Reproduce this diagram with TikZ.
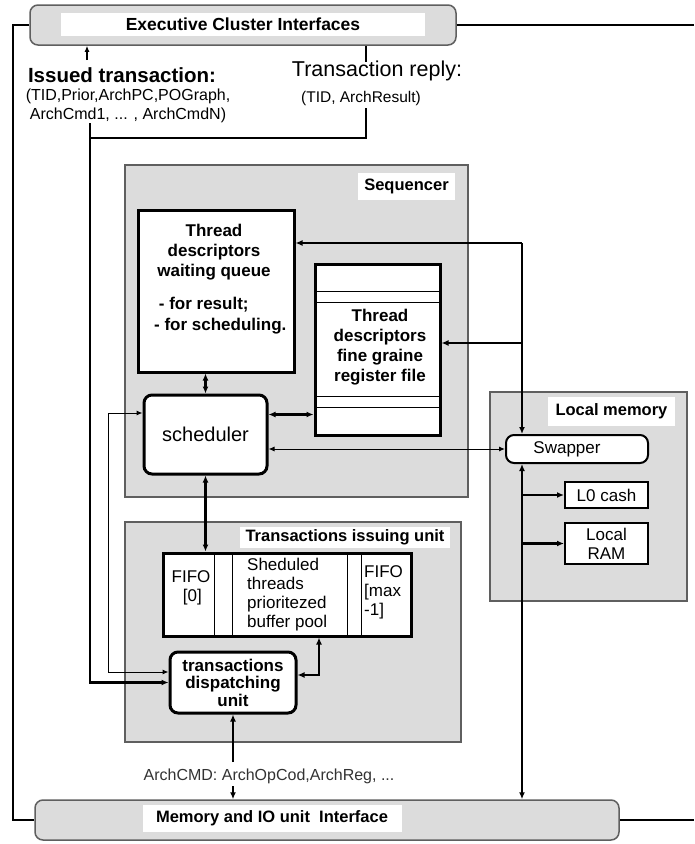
\documentclass[tikz,border=0pt]{standalone}
\usepackage{fontspec}
\setmainfont{Liberation Sans}
\usetikzlibrary{arrows.meta}
\definecolor{panel}{RGB}{220,220,220}
\definecolor{edge}{RGB}{95,95,95}
\begin{document}
\begin{tikzpicture}[x=1pt,y=-1pt,
  region/.style={draw=edge,line width=1.2pt,fill=panel,inner sep=0pt},
  iface/.style={draw=edge,line width=1.5pt,fill=panel,rounded corners=8pt,inner sep=0pt},
  tag/.style={fill=white,inner sep=0pt,font=\fontsize{16.5}{20}\selectfont\bfseries},
  blk/.style={draw,line width=3pt,fill=white,inner sep=0pt},
  rblk/.style={blk,rounded corners=8pt},
  sblk/.style={draw,line width=2pt,fill=white,inner sep=0pt},
  txt/.style={inner sep=0pt,font=\fontsize{17}{19}\selectfont},
  btxt/.style={inner sep=0pt,font=\fontsize{17}{20}\selectfont\bfseries},
  wire/.style={line width=2.2pt,-{Latex[length=7pt,width=6pt]}},
  wires/.style={line width=2.2pt,{Latex[length=7pt,width=6pt]}-{Latex[length=7pt,width=6pt]}},
  thinwires/.style={line width=1pt,{Latex[length=6pt,width=5pt]}-{Latex[length=6pt,width=5pt]}}]
\fill[white] (0,0) rectangle (694,844);
\useasboundingbox (0,0) rectangle (694,844);
\node[iface,minimum width=426,minimum height=40] (exec) at (243,25) {};
\node[tag,minimum width=364,minimum height=23,font=\fontsize{17.5}{20}\selectfont\bfseries] (execlbl) at (243,24.5) {Executive Cluster Interfaces};
\node[iface,minimum width=584,minimum height=40] (mem) at (327,820) {};
\node[tag,minimum width=259,minimum height=27] (memlbl) at (272,818.5) {Memory and IO unit \ Interface};
\node[btxt,font=\fontsize{20.5}{22}\selectfont\bfseries] (issued) at (122,75) {Issued transaction:};
\node[txt,font=\fontsize{16}{19}\selectfont,align=center] (issuedargs) at (128,106) {(TID,Prior,ArchPC,POGraph,\\ArchCmd1, ... , ArchCmdN)};
\node[txt,font=\fontsize{21.5}{22}\selectfont] (reply) at (377,71) {Transaction reply:};
\node[txt,font=\fontsize{15.5}{16}\selectfont] (replyargs) at (361,98) {(TID, ArchResult)};
\node[region,minimum width=343,minimum height=332] (seq) at (296.5,331) {};
\node[tag,minimum width=97,minimum height=27] (seqlbl) at (406.5,186.5) {Sequencer};
\node[blk,minimum width=156,minimum height=162] (queue) at (216,291) {};
\node[btxt,align=center] (queuehead) at (214,252) {Thread\\descriptors\\waiting queue};
\node[btxt,align=left,anchor=west,font=\fontsize{17}{21}\selectfont\bfseries] (queuelist) at (154,316) {\ - for result;\\- for scheduling.};
\node[blk,minimum width=125,minimum height=171] (regf) at (377.5,349.5) {};
\foreach \yy in {291,302,396,407}
  \draw[line width=1pt] (315,\yy) -- (440,\yy);
\node[btxt,align=center] (regftxt) at (380,347) {Thread\\descriptors\\fine graine\\register file};
\node[rblk,minimum width=123,minimum height=79,font=\fontsize{20}{22}\selectfont] (sched) at (205.5,434.5) {scheduler};
\node[region,minimum width=336,minimum height=220] (tiu) at (293,632) {};
\node[tag,minimum width=210,minimum height=21] (tiulbl) at (345,537.5) {Transactions issuing unit};
\node[blk,minimum width=248,minimum height=83] (pool) at (287,594.5) {};
\foreach \xx in {214,232,347,361}
  \draw[line width=1pt] (\xx,553) -- (\xx,636);
\node[txt,align=center] (fifo0) at (191,588) {FIFO\\{\,[0]}};
\node[txt,align=left,anchor=west] (pooltxt) at (247,595) {Sheduled\\threads\\prioritezed\\buffer pool};
\node[txt,align=left,anchor=west] (fifomax) at (364,592) {FIFO\\{[max}\\-1]};
\node[rblk,minimum width=126,minimum height=61,align=center,font=\fontsize{17}{17.5}\selectfont\bfseries] (disp) at (233,682.5) {transactions\\dispatching\\unit};
\node[txt,font=\fontsize{16}{18}\selectfont,text=black!80] (cmdlbl) at (269,776) {ArchCMD: ArchOpCod,ArchReg, ...};
\node[region,minimum width=197,minimum height=209] (lmem) at (588.5,496.5) {};
\node[tag,minimum width=127,minimum height=29] (lmemlbl) at (611.5,411.5) {Local memory};
\node[sblk,rounded corners=8pt,minimum width=142,minimum height=28,font=\fontsize{17}{19}\selectfont] (swap) at (577,449) {Swapper\hspace*{20pt}};
\node[sblk,minimum width=83,minimum height=26,font=\fontsize{17}{19}\selectfont] (lzero) at (606.5,495) {L0 cash};
\node[sblk,minimum width=83,minimum height=41,align=center,font=\fontsize{17}{19}\selectfont] (lram) at (606.5,543.5) {Local\\RAM};
\draw[line width=1.2pt] (exec.west) -- (13,25) -- (13,820) -- (mem.west);
\draw[line width=1.2pt] (exec.east) -- (694,25);
\draw[line width=1.2pt] (mem.east) -- (694,820);
\coordinate (up) at (87,60);
\coordinate (rtop) at (366,62);
\coordinate (rbot) at (366,108);
\coordinate (join) at (90,138);
\coordinate (itail) at (90,123);
\draw[line width=1.6pt,-{Latex[length=6pt,width=5pt]}] (up) -- (up |- exec.south);
\draw[line width=2.2pt] (rtop |- exec.south) -- (rtop);
\draw[line width=2.2pt] (rbot) |- (join);
\draw[wire] (itail) |- (disp.west);
\coordinate (loop) at (108,413);
\coordinate (loopb) at (108,672);
\draw[thinwires] (loop -| sched.west) -- (loop) -- (loopb) -- (loopb -| disp.west);
\draw[wires] (sched.north) -- (sched.north |- queue.south);
\draw[wires] ([yshift=20pt]sched.east) -- ([yshift=20pt]sched.east -| regf.west);
\draw[wires] (sched.south) -- (sched.south |- pool.north);
\coordinate (pd) at (319,675);
\draw[wires] (pd |- pool.south) -- (pd) -- (pd -| disp.east);
\coordinate (c1) at (237,762);
\coordinate (c2) at (237,786);
\draw[wire] (disp.south |- c1) -- (disp.south);
\draw[wire] (disp.south |- c2) -- (disp.south |- mem.north);
\coordinate (jq) at (522,243);
\coordinate (jr) at (522,343);
\draw[wire] (jq) -- (jq -| queue.east);
\draw[wire] (jq) -- (jq |- swap.north);
\draw[wire] (jr) -- (jr -| regf.east);
\draw[wires] (jq |- swap.south) -- (jq |- mem.north);
\draw[wire] (jq |- lzero.west) -- (lzero.west);
\draw[wire] (jq |- lram.west) -- (lram.west);
\draw[thinwires] (swap.west -| sched.east) -- (swap.west);
\end{tikzpicture}
\end{document}
